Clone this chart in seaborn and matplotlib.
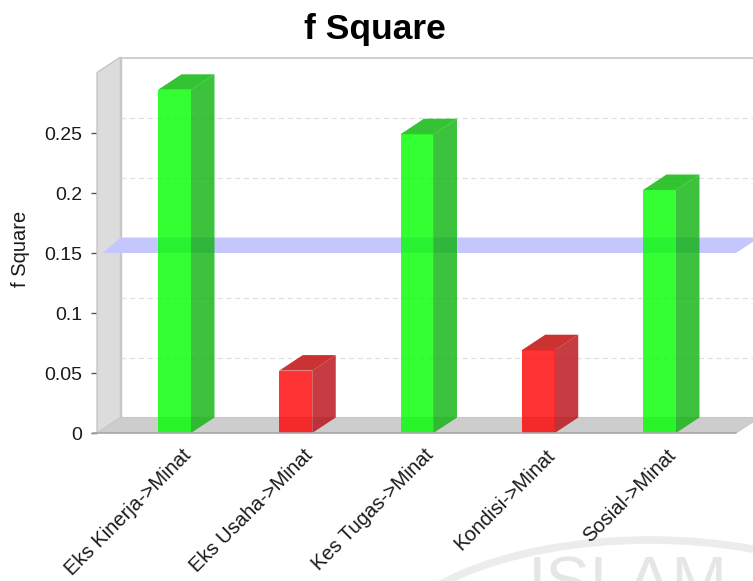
import matplotlib
matplotlib.use("Agg")
import matplotlib.pyplot as plt
from matplotlib.patches import Ellipse
import pandas as pd
import seaborn as sns

categories = ["Eks Kinerja->Minat", "Eks Usaha->Minat", "Kes Tugas->Minat", "Kondisi->Minat", "Sosial->Minat"]
f_square = [0.286, 0.052, 0.249, 0.069, 0.2025]
threshold = 0.15
y_ticks = [0, 0.05, 0.1, 0.15, 0.2, 0.25]
y_tick_labels = ["0", "0.05", "0.1", "0.15", "0.2", "0.25"]

W, H = 753, 581
GREEN, GREEN_SIDE, GREEN_TOP = "#00ff00", "#0bb30b", "#00b500"
RED, RED_SIDE, RED_TOP = "#ff0000", "#b80b13", "#bf0000"
BAR_ALPHA = 0.8
FONT = ["Liberation Sans", "DejaVu Sans"]

sns.set_theme(style="white")
plt.rcParams["font.family"] = FONT

fig = plt.figure(figsize=(W / 100, H / 100), dpi=100)
ax = fig.add_axes([97 / W, 1 - 433 / H, (W - 97) / W, (433 - 57) / H])

# Pixel scale of the plot box: 121.25 px per category, 1200 px per unit of f Square
x_unit, y_unit = 121.25, 1200.0
left_cat = (97 - 174.5) / x_unit
right_cat = (W - 174.5) / x_unit
right_front = (736 - 174.5) / x_unit
y_top = (433 - 57) / y_unit
# Oblique offset of the back plane
dx, dy = 23.5 / x_unit, 15.5 / y_unit
bar_w = 33 / x_unit

ax.set_xlim(left_cat, right_cat)
ax.set_ylim(0, y_top)
ax.set_facecolor("white")

# Side wall and floor of the box
wall = "#dcdcdc"
edge = "#c6c6c6"
ax.fill([left_cat, left_cat + dx, left_cat + dx, left_cat],
        [0, dy, y_top, y_top - dy], color=wall, ec=edge, lw=1.0, zorder=1, clip_on=False)
ax.fill([left_cat, right_front, right_front + dx, left_cat + dx],
        [0, 0, dy, dy], color="#cdcdcd", ec="#c8c8c8", lw=0.8, zorder=1)
ax.plot([left_cat + dx, right_cat], [y_top - 0.0006] * 2, color=edge, lw=1.2, zorder=1, clip_on=False)
ax.plot([left_cat + dx, left_cat + dx], [dy, y_top], color=edge, lw=1.0, zorder=1)

# Dashed grid on the back plane
for t in y_ticks[1:]:
    if t != threshold:
        ax.plot([left_cat + dx, right_cat], [t + dy, t + dy], color="#e0e0e0",
                lw=0.9, ls=(0, (4, 3)), zorder=1.5)

# Threshold band at 0.15 lying across the box, seen through the bars
ax.fill([left_cat + 0.05, right_front, right_front + dx, left_cat + dx],
        [threshold, threshold, threshold + dy, threshold + dy],
        color="#c6c6ff", lw=0, zorder=2)

df = pd.DataFrame({"link": categories, "f": f_square})
colors = [GREEN if v >= threshold else RED for v in f_square]
sns.barplot(data=df, x="link", y="f", hue="link", palette=colors, width=bar_w,
            dodge=False, legend=False, ax=ax, saturation=1, zorder=3,
            alpha=BAR_ALPHA, linewidth=0, edgecolor="none")
ax.set_xlim(left_cat, right_cat)
ax.set_ylim(0, y_top)

# Side and top faces of each bar
for i, v in enumerate(f_square):
    high = v >= threshold
    side = GREEN_SIDE if high else RED_SIDE
    top = GREEN_TOP if high else RED_TOP
    r = i + bar_w / 2
    l = i - bar_w / 2
    ax.fill([r, r + dx, r + dx, r], [0, dy, v + dy, v], color=side, alpha=BAR_ALPHA, lw=0, zorder=3)
    ax.fill([l, r, r + dx, l + dx], [v, v, v + dy, v + dy], color=top, alpha=BAR_ALPHA, lw=0, zorder=3)

for s in ax.spines.values():
    s.set_visible(False)

ax.set_yticks(y_ticks)
ax.set_yticklabels(y_tick_labels, fontsize=14, color="#1a1a1a")
ax.tick_params(axis="y", length=4, width=1, color="#555555", left=True, pad=6.5)
ax.set_ylabel("")
ax.set_xlabel("")
ax.set_xticks(range(len(categories)))
ax.set_xticklabels([])
ax.tick_params(axis="x", bottom=False)
ax.plot([left_cat - 0.035, right_front], [0, 0], color="#a8a8a8", lw=1.2, zorder=5, clip_on=False)

# Slanted category labels
for i, name in enumerate(categories):
    ax.annotate(name, xy=(i, 0), xytext=(5, -9), textcoords="offset points",
                rotation=45, rotation_mode="anchor", ha="right", va="top",
                fontsize=14.5, color="#1a1a1a", annotation_clip=False)

fig.text(375 / W, 1 - 29 / H, "f Square", ha="center", va="center",
         fontsize=25.5, fontweight="bold", color="black")
fig.text(21 / W, 1 - 249 / H, "f Square", rotation=90, ha="center", va="center",
         fontsize=14.5, color="#1a1a1a")

# Faint seal printed behind the lower right corner of the page
fig.add_artist(Ellipse((650 / W, 1 - 660 / H), 540 / W, 240 / H, fill=False,
                       ec="#ececec", lw=5.5, transform=fig.transFigure, zorder=-1))
fig.text(628 / W, 1 - 604 / H, "ISLAM", ha="center", va="baseline", fontsize=48,
         color="#e6e6e6", zorder=-1)

fig.savefig("out.png", dpi=100)
